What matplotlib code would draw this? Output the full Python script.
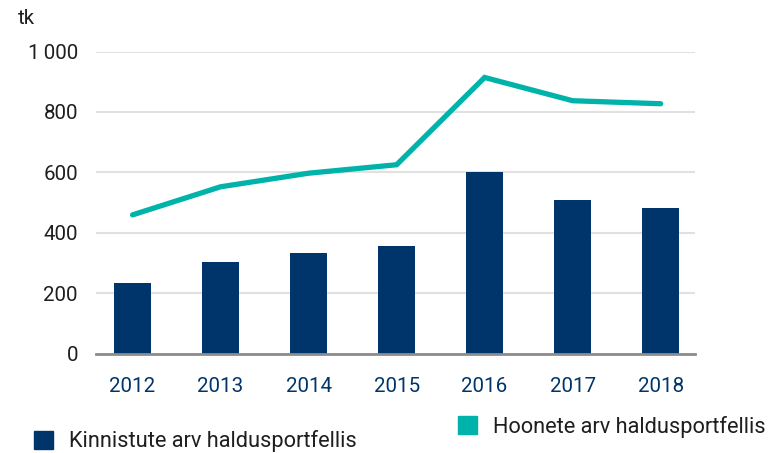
import matplotlib
matplotlib.use("Agg")
import matplotlib.pyplot as plt
from matplotlib.patches import Patch

years = ["2012", "2013", "2014", "2015", "2016", "2017", "2018"]
land_value = [233, 303, 333, 356, 601, 508, 482]        # Kinnistute arv haldusportfellis
building_value = [459, 552, 597, 625, 914, 837, 827]    # Hoonete arv haldusportfellis
y_ticks = [0, 200, 400, 600, 800, 1000]
y_tick_labels = ["0", "200", "400", "600", "800", "1\u2009000"]

navy = "#00356B"
teal = "#00B3AA"
grid_col = "#E1E1E1"
text_col = "#1E1E1E"

tick_font = ["Roboto", "DejaVu Sans"]
legend_font = ["Roboto", "DejaVu Sans"]

fig = plt.figure(figsize=(7.72, 4.53), dpi=100)
ax = fig.add_axes([96 / 772, 1 - 353.5 / 453, (695 - 96) / 772, (353.5 - 51.5) / 453])

x = list(range(len(years)))
ax.bar(x, land_value, width=0.42, color=navy, zorder=2)
ax.plot(x, building_value, color=teal, linewidth=3.8, solid_capstyle="round",
        solid_joinstyle="miter", zorder=3)

ax.set_xlim(-0.415, 6.39)
ax.set_ylim(0, 1000)
ax.set_yticks(y_ticks)
ax.set_yticklabels(y_tick_labels, family=tick_font, fontsize=14.8, color=text_col)
ax.set_xticks(x)
ax.set_xticklabels(years, family=tick_font, fontsize=14.8, color=navy)
ax.tick_params(axis="y", length=0, pad=13)
ax.tick_params(axis="x", length=0, pad=17)

ax.grid(axis="y", color=grid_col, linewidth=1.5, zorder=0)
ax.set_axisbelow(True)
for side in ["left", "right", "top"]:
    ax.spines[side].set_visible(False)
ax.spines["bottom"].set_color("#8C8C8C")
ax.spines["bottom"].set_linewidth(2)
ax.spines["bottom"].set_zorder(4)

fig.text(18 / 772, 1 - 18 / 453, "tk", family=tick_font, fontsize=14.8,
         color=text_col, ha="left", va="center")

legend_kw = dict(frameon=False, prop={"family": legend_font, "size": 15.7},
                 handlelength=0.87, handleheight=0.87, handletextpad=0.73,
                 borderpad=0, borderaxespad=0, labelcolor=text_col)
leg1 = fig.legend(handles=[Patch(color=navy, label="Kinnistute arv haldusportfellis")],
                  loc="center left", bbox_to_anchor=(34 / 772, 1 - 441.5 / 453), **legend_kw)
leg2 = fig.legend(handles=[Patch(color=teal, label="Hoonete arv haldusportfellis")],
                  loc="center left", bbox_to_anchor=(458 / 772, 1 - 426.5 / 453), **legend_kw)

fig.savefig("out.png", dpi=100)
